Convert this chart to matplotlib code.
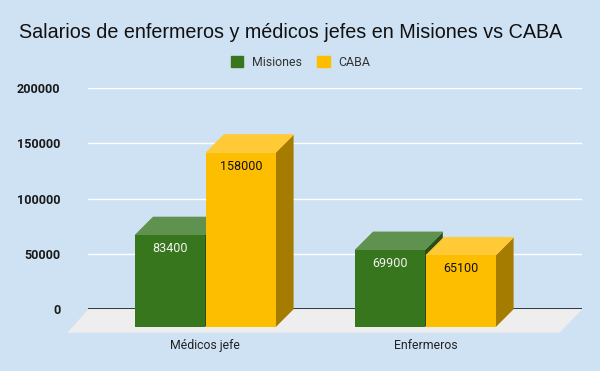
#!/usr/bin/env python3
import matplotlib
matplotlib.use("Agg")
import matplotlib.pyplot as plt
from matplotlib.patches import Patch, Polygon

categories = ['Médicos jefe', 'Enfermeros']
series_names = ['Misiones', 'CABA']
misiones = [83400, 69900]
caba = [158000, 65100]
yticks = [0, 50000, 100000, 150000, 200000]

bg = '#cfe2f3'
front = ['#38761d', '#fdbe00']
top = ['#5f914f', '#ffca36']
side = ['#274e14', '#a67c00']
text_col = ['#f3f3f3', '#111111']

W, H = 600, 371
fig = plt.figure(figsize=(W / 100, H / 100), dpi=100, facecolor=bg)
# plot rectangle in pixels: x 88-582, y 88-309
ax = fig.add_axes([88.4 / W, 1 - 309.2 / H, 494 / W, 221 / H], facecolor='none')

px_x = 1 / 220          # one category step is 220 px
px_y = 200000 / 221
ax.set_xlim((88 - 205) * px_x, (582 - 205) * px_x)
ax.set_ylim(0, 200000)

dx = 18 * px_x
dy = 18 * px_y
bar_w = 69.6 * px_x
gap = 0.6 * px_x

ax.set_axisbelow(True)
ax.grid(axis='y', color='white', lw=1.0, zorder=0)
ax.set_yticks(yticks)
ax.set_xticks(range(len(categories)), categories)
ax.tick_params(axis='x', length=0, pad=21.5, labelsize=8.8, labelcolor='#222222')
ax.tick_params(axis='y', length=0, pad=20, labelsize=9.1, labelcolor='#1a1a1a')
for lab in ax.get_xticklabels():
    lab.set_family('Roboto')
for lab in ax.get_yticklabels():
    lab.set_family('Roboto')
    lab.set_fontweight('bold')
for s in ax.spines.values():
    s.set_visible(False)
ax.axhline(0, color='#1a1a1a', lw=1.2, zorder=1.5)

# floor
x0, x1 = ax.get_xlim()
floor_low = -23.5 * px_y
ax.add_patch(Polygon([(x0, 0), (x1, 0), (x1 - 23 * px_x, floor_low), (x0 - 21 * px_x, floor_low)],
                     closed=True, fc='#eeeeee', ec='none', clip_on=False, zorder=1))

z = 2
for c in range(len(categories)):
    for i, vals in enumerate([misiones, caba]):
        v = vals[c]
        left = c - bar_w - gap if i == 0 else c + gap
        right = left + bar_w
        y0 = -dy
        y1 = v - dy
        ax.add_patch(Polygon([(right, y0), (right + dx, 0), (right + dx, v), (right, y1)],
                             closed=True, fc=side[i], ec='none', clip_on=False, zorder=z))
        ax.add_patch(Polygon([(left, y1), (right, y1), (right + dx, v), (left + dx, v)],
                             closed=True, fc=top[i], ec=top[i], lw=0.5, clip_on=False, zorder=z))
        ax.bar(left, v, width=bar_w, bottom=y0, align='edge', color=front[i], clip_on=False, zorder=z + 0.5)
        ax.annotate(str(v), (left + bar_w / 2, y1), xytext=(0, -13.5 * 0.72), textcoords='offset points',
                    ha='center', va='center', fontsize=9, family='Roboto', color=text_col[i],
                    zorder=z + 1, annotation_clip=False)
        z += 2

fig.text(19 / W, 1 - 32 / H, 'Salarios de enfermeros y médicos jefes en Misiones vs CABA',
         family='Liberation Sans', fontsize=14.24, color='#111111', va='center', ha='left')

handles = [Patch(color=front[0], label=series_names[0]), Patch(color=front[1], label=series_names[1])]
fig.legend(handles=handles, ncols=2, loc='center', bbox_to_anchor=(300.5 / W, 1 - 62 / H), frameon=False,
           prop={'family': 'Roboto', 'size': 8.9}, labelcolor='#333333', handlelength=1.05, handleheight=1.05,
           handletextpad=0.7, columnspacing=1.2)

plt.savefig('out.png', dpi=100, facecolor=bg)
